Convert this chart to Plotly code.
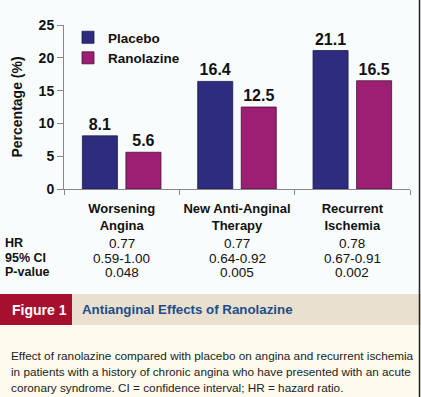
import plotly.graph_objects as go

# ---- data ----
categories = ["Worsening<br>Angina", "New Anti-Anginal<br>Therapy", "Recurrent<br>Ischemia"]
placebo = [8.1, 16.4, 21.1]
ranolazine = [5.6, 12.5, 16.5]
hr_values = ["0.77", "0.77", "0.78"]
ci_values = ["0.59-1.00", "0.64-0.92", "0.67-0.91"]
p_values = ["0.048", "0.005", "0.002"]
row_labels = ["HR", "95% CI", "P-value"]
y_ticks = [0, 5, 10, 15, 20, 25]
caption_lines = [
    "Effect of ranolazine compared with placebo on angina and recurrent ischemia",
    "in patients with a history of chronic angina who have presented with an acute",
    "coronary syndrome. CI = confidence interval; HR = hazard ratio.",
]

W, H = 421, 397
L, R, T, B = 64, 410, 25, 189  # plot area pixels


def px(x):
    return (x - L) / (R - L)


def py(y):
    return (B - y) / (B - T)


FONT = "Liberation Sans, Arial, sans-serif"
NAVY = "#2d2c7f"
MAGENTA = "#9c1f74"

fig = go.Figure()
fig.add_trace(go.Bar(
    name="Placebo", x=categories, y=placebo, marker_color=NAVY,
    marker_line=dict(color="#1a1a4a", width=0.8),
    text=[f"{v:.1f}" for v in placebo], textposition="outside",
    textfont=dict(family=FONT, size=16, color="#111", weight="bold"), cliponaxis=False,
))
fig.add_trace(go.Bar(
    name="Ranolazine", x=categories, y=ranolazine, marker_color=MAGENTA,
    marker_line=dict(color="#4a1035", width=0.8),
    text=[f"{v:.1f}" for v in ranolazine], textposition="outside",
    textfont=dict(family=FONT, size=16, color="#111", weight="bold"), cliponaxis=False,
))

shapes = [
    dict(type="rect", xref="paper", yref="paper", x0=px(0), x1=px(W), y0=py(294), y1=py(0),
         fillcolor="#f9fcfc", line_width=0, layer="below"),
    dict(type="rect", xref="paper", yref="paper", x0=px(0), x1=px(W), y0=py(325), y1=py(294),
         fillcolor="#e9e0cf", line_width=0, layer="below"),
    dict(type="rect", xref="paper", yref="paper", x0=px(0), x1=px(72), y0=py(325), y1=py(294),
         fillcolor="#a5102f", line_width=0, layer="below"),
    dict(type="rect", xref="paper", yref="paper", x0=px(0), x1=px(W), y0=py(H), y1=py(325),
         fillcolor="#fdfbee", line_width=0, layer="below"),
    dict(type="line", xref="paper", yref="paper", x0=px(419.5), x1=px(419.5), y0=py(H), y1=py(0),
         line=dict(color="#222", width=1.5)),
]

annotations = []
rows = [hr_values, ci_values, p_values]
row_y = [243, 258, 272]
for label, vals, yy in zip(row_labels, rows, row_y):
    annotations.append(dict(xref="paper", yref="paper", x=px(3), y=py(yy), text=label,
                            showarrow=False, xanchor="left", yanchor="middle",
                            font=dict(family=FONT, size=12.5, color="#111", weight="bold")))
    for i, v in enumerate(vals):
        annotations.append(dict(xref="x", yref="paper", x=i, y=py(yy), text=v,
                                showarrow=False, xanchor="center", yanchor="middle",
                                font=dict(family=FONT, size=13.5, color="#111")))

annotations.append(dict(xref="paper", yref="paper", x=px(10), y=py(309.5), text="Figure 1",
                        showarrow=False, xanchor="left", yanchor="middle",
                        font=dict(family=FONT, size=14, color="white", weight="bold")))
annotations.append(dict(xref="paper", yref="paper", x=px(80), y=py(309.5),
                        text="Antianginal Effects of Ranolazine",
                        showarrow=False, xanchor="left", yanchor="middle",
                        font=dict(family=FONT, size=13.3, color="#1f4d8a", weight="bold")))
for line, yy in zip(caption_lines, [355, 371.5, 387.5]):
    annotations.append(dict(xref="paper", yref="paper", x=px(9), y=py(yy), text=line,
                            showarrow=False, xanchor="left", yanchor="middle",
                            font=dict(family=FONT, size=11.75, color="#222")))

fig.update_layout(
    width=W, height=H,
    margin=dict(l=L, r=W - R, t=T, b=H - B, autoexpand=False),
    paper_bgcolor="#f9fcfc", plot_bgcolor="rgba(0,0,0,0)",
    barmode="group", bargap=0.245, bargroupgap=0.195,
    showlegend=True,
    legend=dict(x=px(68), y=py(22), xanchor="left", yanchor="top",
                bgcolor="rgba(0,0,0,0)", tracegroupgap=0, itemwidth=30,
                font=dict(family=FONT, size=13.5, color="#111", weight="bold")),
    font=dict(family=FONT, color="#111"),
    shapes=shapes, annotations=annotations,
    xaxis=dict(showline=True, linecolor="#888", linewidth=1, ticks="outside", ticklen=5,
               tickcolor="#888", tickson="boundaries", tickangle=0, ticklabelstandoff=7,
               tickfont=dict(family=FONT, size=13, color="#111", weight="bold")),
    yaxis=dict(range=[0, 25], tickvals=y_ticks, showline=True, linecolor="#888", linewidth=1,
               ticks="outside", ticklen=6, tickcolor="#888", showgrid=False, zeroline=False,
               tickfont=dict(family=FONT, size=14, color="#111", weight="bold"),
               title=dict(text="Percentage (%)", standoff=12,
                          font=dict(family=FONT, size=14, color="#111", weight="bold"))),
)

fig.write_html("out.html", config={"displayModeBar": False},
               post_script="document.body.style.margin='0';")
